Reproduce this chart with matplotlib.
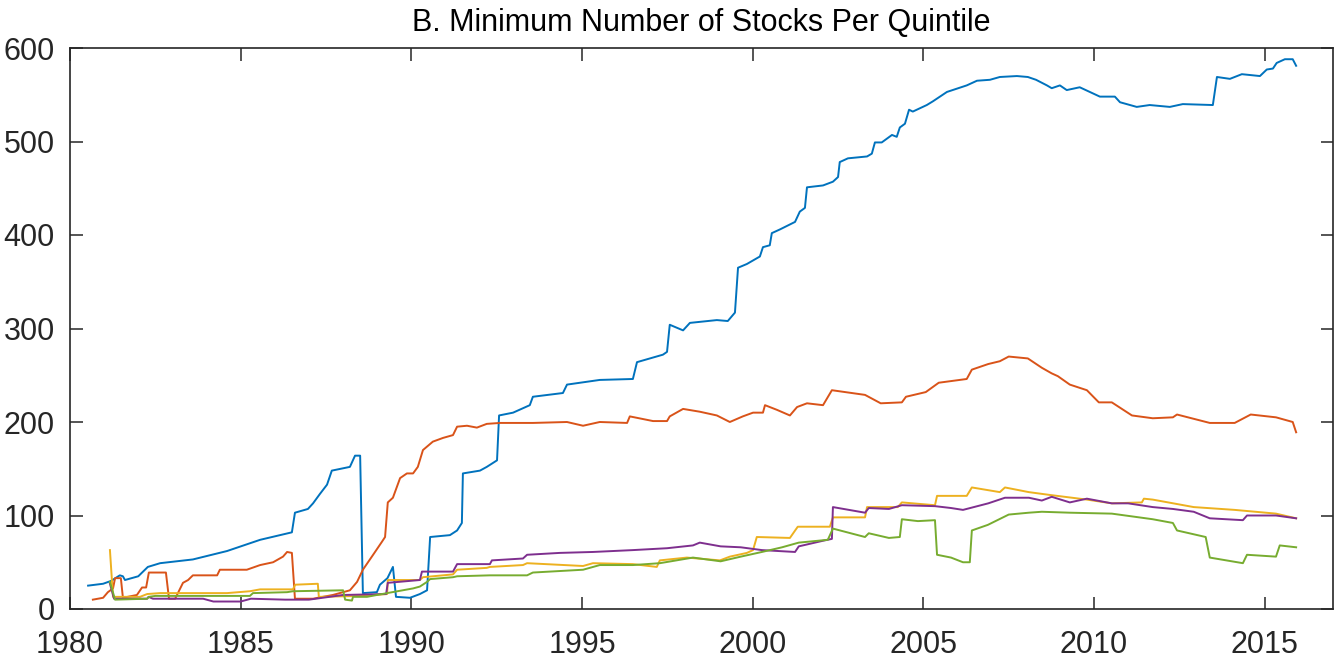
import matplotlib
matplotlib.use("Agg")
import matplotlib.pyplot as plt
import numpy as np

# minimum number of stocks per quintile (year, count)
q1_years = [1980.53, 1980.97, 1981.2, 1981.46, 1981.55, 1981.61, 1982.0, 1982.28, 1982.64, 1983.6,
            1984.6, 1985.57, 1986.5, 1986.59, 1986.97, 1987.12, 1987.32, 1987.53, 1987.67, 1988.2,
            1988.35, 1988.5, 1988.58, 1988.99, 1989.08, 1989.3, 1989.46, 1989.55, 1989.96, 1990.25,
            1990.46, 1990.55, 1991.13, 1991.34, 1991.48, 1991.51, 1992.01, 1992.21, 1992.51, 1992.57,
            1992.98, 1993.47, 1993.56, 1994.44, 1994.56, 1995.52, 1996.49, 1996.61, 1997.37, 1997.49,
            1997.57, 1997.96, 1998.16, 1998.95, 1999.27, 1999.48, 1999.57, 1999.83, 2000.21, 2000.30,
            2000.50, 2000.56, 2000.80, 2001.24, 2001.38, 2001.53, 2001.59, 2002.06, 2002.35, 2002.50,
            2002.55, 2002.79, 2003.35, 2003.49, 2003.58, 2003.78, 2004.08, 2004.22, 2004.31, 2004.46,
            2004.58, 2004.69, 2005.10, 2005.28, 2005.69, 2006.27, 2006.57, 2006.95, 2007.24, 2007.74,
            2008.06, 2008.3, 2008.62, 2008.76, 2009.0, 2009.2, 2009.58, 2010.17, 2010.61, 2010.76,
            2011.25, 2011.63, 2012.22, 2012.6, 2013.48, 2013.60, 2013.98, 2014.33, 2014.86, 2015.06,
            2015.24, 2015.35, 2015.59, 2015.82, 2015.92]
q1_vals = [25, 27, 30, 36, 35, 31, 35, 45, 49, 53,
           62, 74, 82, 103, 107, 113, 123, 133, 148, 152,
           164, 164, 17, 18, 26, 33, 45, 13, 12, 16,
           20, 77, 79, 84, 92, 145, 148, 152, 159, 207,
           210, 218, 227, 231, 240, 245, 246, 264, 272, 275,
           304, 298, 306, 309, 308, 317, 365, 369, 377, 387,
           389, 402, 406, 414, 425, 429, 451, 453, 457, 462,
           478, 482, 484, 487, 499, 499, 507, 505, 515, 519,
           534, 532, 539, 543, 553, 560, 565, 566, 569, 570,
           569, 566, 560, 557, 560, 555, 558, 548, 548, 542,
           537, 539, 537, 540, 539, 569, 567, 572, 570, 577,
           578, 584, 588, 588, 581]

q2_years = [1980.67, 1980.97, 1981.11, 1981.26, 1981.32, 1981.49, 1981.55, 1981.96, 1982.11, 1982.23,
            1982.31, 1982.81, 1982.90, 1983.08, 1983.31, 1983.46, 1983.60, 1984.31, 1984.39, 1985.18,
            1985.57, 1985.95, 1986.24, 1986.36, 1986.50, 1986.59, 1987.12, 1987.41, 1987.7, 1988.0,
            1988.2, 1988.41, 1988.58, 1988.88, 1989.14, 1989.23, 1989.31, 1989.46, 1989.67, 1989.87,
            1990.05, 1990.19, 1990.34, 1990.63, 1990.93, 1991.22, 1991.34, 1991.63, 1991.92, 1992.21,
            1992.6, 1993.56, 1994.56, 1995.03, 1995.52, 1996.32, 1996.40, 1997.08, 1997.49, 1997.57,
            1997.96, 1998.45, 1998.95, 1999.33, 1999.71, 2000.01, 2000.30, 2000.36, 2000.71, 2001.09,
            2001.3, 2001.59, 2002.06, 2002.32, 2003.29, 2003.75, 2004.37, 2004.49, 2005.07, 2005.45,
            2006.27, 2006.42, 2006.9, 2007.24, 2007.5, 2008.06, 2008.47, 2008.76, 2008.94, 2009.29,
            2009.79, 2010.14, 2010.52, 2011.11, 2011.72, 2012.31, 2012.43, 2013.39, 2014.12, 2014.59,
            2015.33, 2015.82, 2015.92]
q2_vals = [10, 12, 18, 22, 33, 33, 12, 15, 23, 23,
           39, 39, 11, 11, 28, 31, 36, 36, 42, 42,
           47, 50, 56, 61, 60, 11, 11, 13, 15, 18,
           20, 29, 42, 58, 72, 77, 114, 119, 140, 145,
           145, 152, 170, 179, 183, 186, 195, 196, 194, 198,
           199, 199, 200, 196, 200, 199, 206, 201, 201, 206,
           214, 211, 207, 200, 206, 210, 210, 218, 213, 207,
           216, 220, 218, 234, 229, 220, 221, 227, 232, 242,
           246, 256, 262, 265, 270, 268, 258, 252, 249, 240,
           234, 221, 221, 207, 204, 205, 208, 199, 199, 208,
           205, 200, 189]

q3_years = [1981.17, 1981.26, 1982.05, 1982.26, 1982.64, 1984.6, 1985.27, 1985.57, 1986.53, 1986.6,
            1987.26, 1987.29, 1988.5, 1989.29, 1989.31, 1990.25, 1990.34, 1991.22, 1991.34, 1992.21,
            1992.30, 1993.27, 1993.39, 1995.03, 1995.32, 1996.49, 1997.19, 1997.28, 1998.07, 1999.04,
            1999.33, 1999.83, 2000.01, 2000.12, 2001.09, 2001.32, 2002.26, 2002.35, 2003.29, 2003.35,
            2004.25, 2004.37, 2005.34, 2005.40, 2006.27, 2006.42, 2007.24, 2007.39, 2008.09, 2008.70,
            2009.79, 2010.52, 2011.40, 2011.46, 2011.72, 2012.92, 2014.12, 2015.33, 2015.92]
q3_vals = [63, 13, 13, 16, 17, 17, 19, 21, 21, 26,
           27, 13, 14, 16, 31, 31, 34, 37, 42, 44,
           45, 47, 49, 46, 49, 48, 45, 52, 55, 52,
           56, 60, 63, 77, 76, 88, 88, 98, 98, 109,
           109, 114, 111, 121, 121, 130, 125, 130, 125, 122,
           117, 113, 114, 118, 117, 109, 106, 102, 97]

q4_years = [1981.17, 1981.29, 1982.26, 1982.3, 1982.43, 1983.9, 1984.2, 1985.0, 1985.3, 1986.3,
            1987.0, 1987.6, 1988.0, 1989.26, 1989.31, 1990.25, 1990.31, 1991.22, 1991.34, 1992.30,
            1992.36, 1993.27, 1993.39, 1994.35, 1995.32, 1996.49, 1997.49, 1998.25, 1998.45, 1999.06,
            1999.65, 2000.27, 2001.24, 2001.35, 2002.06, 2002.32, 2002.35, 2003.29, 2003.40, 2003.99,
            2004.37, 2005.34, 2005.81, 2006.16, 2006.9, 2007.39, 2008.09, 2008.47, 2008.76, 2009.29,
            2009.79, 2010.52, 2011.0, 2011.72, 2012.31, 2012.92, 2013.39, 2014.36, 2014.48, 2015.33,
            2015.92]
q4_vals = [27, 11, 11, 13, 11, 11, 8, 8, 11, 10,
           10, 13, 15, 16, 28, 31, 40, 40, 48, 48,
           52, 54, 58, 60, 61, 63, 65, 68, 71, 67,
           66, 63, 61, 67, 73, 75, 109, 103, 108, 107,
           111, 110, 108, 106, 113, 119, 119, 116, 120, 114,
           118, 113, 113, 109, 107, 104, 97, 95, 100, 100,
           97]

q5_years = [1981.17, 1981.32, 1982.26, 1982.31, 1982.5, 1985.27, 1985.36, 1986.36, 1986.53, 1988.0,
            1988.06, 1988.26, 1988.29, 1988.7, 1988.99, 1989.29, 1990.05, 1990.25, 1990.46, 1990.55,
            1991.22, 1991.34, 1992.30, 1993.39, 1993.56, 1995.03, 1995.52, 1996.49, 1997.28, 1998.25,
            1999.06, 1999.65, 2000.27, 2000.86, 2001.35, 2002.2, 2002.35, 2003.29, 2003.40, 2003.99,
            2004.31, 2004.37, 2004.84, 2005.34, 2005.40, 2005.81, 2006.16, 2006.36, 2006.42, 2006.89,
            2007.50, 2008.09, 2008.47, 2009.29, 2010.52, 2011.72, 2012.31, 2012.43, 2013.27, 2013.39,
            2014.36, 2014.48, 2015.33, 2015.44, 2015.92]
q5_vals = [29, 10, 11, 13, 14, 14, 17, 18, 19, 20,
           10, 9, 13, 13, 15, 17, 22, 24, 29, 32,
           34, 35, 36, 36, 39, 42, 47, 47, 49, 55,
           51, 56, 61, 66, 71, 74, 86, 77, 81, 76,
           77, 96, 94, 95, 58, 55, 50, 50, 84, 90,
           101, 103, 104, 103, 102, 96, 92, 84, 77, 55,
           49, 58, 56, 68, 66]

x_ticks = [1980, 1985, 1990, 1995, 2000, 2005, 2010, 2015]
y_ticks = [0, 100, 200, 300, 400, 500, 600]
title = "B. Minimum Number of Stocks Per Quintile"

# matlab default line colours
colors = ["#0072BD", "#D95319", "#EDB120", "#7E2F8E", "#77AC30"]

plt.rcParams['font.family'] = ['Liberation Sans Narrow', 'Liberation Sans', 'DejaVu Sans']

fig = plt.figure(figsize=(13.4, 6.63), dpi=100)
ax = fig.add_axes([70 / 1340, 54 / 663, 1263 / 1340, 561 / 663])

series = [(q1_years, q1_vals), (q2_years, q2_vals), (q3_years, q3_vals),
          (q4_years, q4_vals), (q5_years, q5_vals)]
for (xs, ys), c in zip(series, colors):
    ax.plot(xs, ys, color=c, linewidth=1.4)

ax.set_xlim(1980, 2017)
ax.set_ylim(0, 600)
ax.set_xticks(x_ticks)
ax.set_yticks(y_ticks)
ax.tick_params(direction='in', length=9, width=1.1, top=True, right=True,
               labelsize=22, colors='#262626')
ax.tick_params(axis='x', pad=15)
ax.tick_params(axis='y', pad=11)
for s in ax.spines.values():
    s.set_linewidth(1.2)
    s.set_color('#262626')
ax.set_title(title, fontsize=22, color='black', pad=12)

fig.savefig("out.png", dpi=100)
